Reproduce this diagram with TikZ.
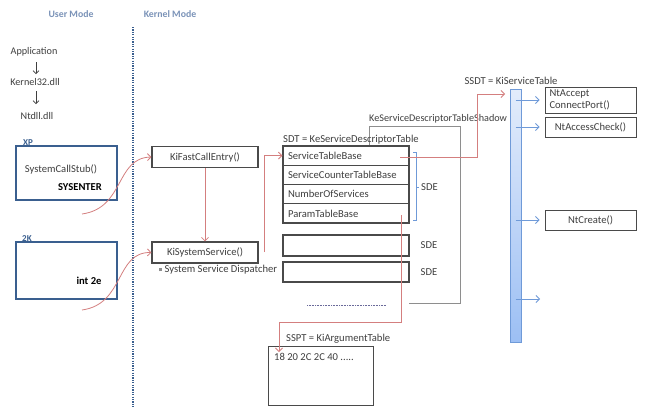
\documentclass[tikz,border=0pt]{standalone}
\usepackage{fontspec}
\setmainfont{Carlito}
\usetikzlibrary{arrows.meta,calc}
\definecolor{txt}{HTML}{3F3F3F}
\definecolor{boxc}{HTML}{4A4A4A}
\definecolor{xpblue}{HTML}{3A5F8F}
\definecolor{hdr}{HTML}{7B93B8}
\definecolor{redl}{HTML}{D47F7F}
\definecolor{bluel}{HTML}{6F9AD8}
\definecolor{grayl}{HTML}{8E8E8E}
\definecolor{bartop}{HTML}{E3ECFB}
\definecolor{barbot}{HTML}{9CBFF4}
\definecolor{dotc}{HTML}{6A6A9A}
\newcommand\myfs{\fontsize{10.6}{12}\selectfont}
\begin{document}
\begin{tikzpicture}[x=1pt,y=-1pt,
  every node/.style={font=\myfs, text=txt},
  lbl/.style={inner sep=0pt},
  box/.style={draw=boxc, line width=1.1pt, fill=white, inner sep=0pt, minimum width=106pt, minimum height=21pt},
  osbox/.style={draw=xpblue, line width=1.6pt, inner sep=0pt, minimum width=101pt},
  osl/.style={font={\fontsize{9}{10}\selectfont\bfseries}, text=xpblue, inner sep=0pt},
  hdrl/.style={font={\fontsize{9.8}{11}\selectfont\bfseries}, text=hdr, inner sep=0pt},
  bld/.style={font={\myfs\bfseries}, text=black, inner sep=0pt},
  row/.style={draw=boxc, line width=1.1pt, fill=white, minimum width=126pt, minimum height=19.25pt, text width=116pt, align=left, inner xsep=5pt, inner ysep=0pt},
  ntbox/.style={draw=boxc, line width=1pt, fill=white, minimum width=91pt, inner sep=0pt},
  redarr/.style={draw=redl, line width=0.8pt, -{Straight Barb[length=3.5pt,width=7pt]}},
  bluearr/.style={draw=bluel, line width=0.8pt, -{Straight Barb[length=3.5pt,width=7pt]}},
  grayarr/.style={draw=txt, line width=0.6pt, -{Straight Barb[length=3pt,width=6pt]}},
]
\useasboundingbox (0,0) rectangle (648,407);
\fill[white] (0,0) rectangle (648,407);
% headers
\node[hdrl] (um) at (71,14) {User Mode};
\node[hdrl] (km) at (170,14) {Kernel Mode};
\coordinate (dtop) at (133,27);
\coordinate (dbot) at (133,407);
\draw[xpblue, line width=1.6pt, dash pattern=on 1.2pt off 1.2pt] (dtop) -- (dbot);
% user chain
\node[lbl, font={\fontsize{10.2}{12}\selectfont}] (app) at (34,52) {Application};
\node[lbl, font={\fontsize{10.2}{12}\selectfont}] (k32) at (35,82) {Kernel32.dll};
\node[lbl, font={\fontsize{10.2}{12}\selectfont}] (ntd) at (37,116) {Ntdll.dll};
\coordinate (a1) at (36,62);
\coordinate (a2) at (36,74);
\coordinate (a3) at (36,91);
\coordinate (a4) at (36,104);
\draw[grayarr] (a1) -- (a2);
\draw[grayarr] (a3) -- (a4);
% XP
\node[osbox, minimum height=54pt] (xp) at (66.5,173) {};
\node[osl, anchor=south west] (xpl) at (23,146) {XP};
\node[lbl] (stub) at (61,169) {SystemCallStub()};
\node[bld] (sysenter) at (80,187) {SYSENTER};
% 2K
\node[osbox, minimum height=57pt] (tk) at (66.5,270.5) {};
\node[osl, anchor=south west] (tkl) at (22,242) {2K};
\node[bld] (int) at (89,281) {int 2e};
% kernel entries
\node[box] (fast) at (205,157) {KiFastCallEntry()};
\node[box] (sys) at (205,252.5) {KiSystemService()};
\node[lbl, anchor=west] (disp) at (159,270) {\textcolor{grayl}{\rule[1.5pt]{3pt}{3pt}} System Service Dispatcher};
\coordinate (c1) at (82,214);
\draw[redarr] (c1) .. controls (125,208) and (115,158) .. (fast.west);
\coordinate (c2) at (82,310);
\draw[redarr] (c2) .. controls (125,304) and (115,252) .. (sys.west);
\draw[redarr] (fast.south) -- (sys.north);
% shadow
\node[lbl, anchor=south west, font={\fontsize{10.2}{12}\selectfont}] (shl) at (369,123) {KeServiceDescriptorTableShadow};
\draw[grayl, line width=0.8pt] (369,146) -- (369,126) -- (460,126) -- (460,303) -- (409,303);
% SDT
\node[lbl, anchor=south west] (sdtl) at (283,144) {SDT = KeServiceDescriptorTable};
\node[row] (r1) at (346,155.6) {ServiceTableBase};
\node[row] (r2) at (346,174.9) {ServiceCounterTableBase};
\node[row] (r3) at (346,194.1) {NumberOfServices};
\node[row] (r4) at (346,213.4) {ParamTableBase};
\draw[bluel, line width=0.7pt] (413,152) -- (416,152) -- (416,220) -- (413,220);
\draw[bluel, line width=0.7pt] (416,187) -- (419,187);
\node[lbl, anchor=west] (sde1) at (421,187) {SDE};
\node[row, minimum height=21pt] (e1) at (346,245.5) {};
\node[row, minimum height=20pt] (e2) at (346,272) {};
\node[lbl] (sde2) at (429,245) {SDE};
\node[lbl] (sde3) at (429,272) {SDE};
\draw[dotc, line width=1pt, dash pattern=on 0.8pt off 0.8pt] (307,305) -- (386,305);
\coordinate (c3) at (264,252);
\draw[redarr] (c3) |- (r1.west);
% SSPT
\node[draw=boxc, line width=1pt, fill=white, minimum width=105pt, minimum height=59pt, inner sep=0pt] (sspt) at (320.5,375.5) {};
\node[lbl, anchor=south west] (ssptl) at (286,344) {SSPT = KiArgumentTable};
\node[lbl, anchor=west] (args) at (274,357) {18 20 2C 2C 40 .....};
\coordinate (c6) at (401,215);
\coordinate (c7) at (279,352);
\draw[redarr] (c6) -- (401,322) -- (279,322) -- (c7);
% SSDT
\node[lbl] (ssdtl) at (511,81) {SSDT = KiServiceTable};
\node[draw=bluel, line width=0.8pt, top color=bartop, bottom color=barbot, minimum width=11pt, minimum height=253pt, inner sep=0pt] (bar) at (515.5,215.5) {};
\coordinate (c4) at (400,157);
\coordinate (c5) at (505,94);
\draw[redarr] (c4) -- (477,157) -- (477,94) -- (c5);
\node[ntbox, minimum height=26pt, text width=82pt, align=left, inner xsep=4.5pt] (nt1) at (590.5,100) {NtAccept\\ConnectPort()};
\node[ntbox, minimum height=20pt] (nt2) at (590.5,127) {NtAccessCheck()};
\node[ntbox, minimum height=20pt] (nt3) at (590.5,220) {NtCreate()};
\coordinate (c8) at (540,299);
\draw[bluearr] (bar.center |- nt1) -- ([xshift=-5pt]nt1.west);
\draw[bluearr] (bar.center |- nt2) -- ([xshift=-5pt]nt2.west);
\draw[bluearr] (bar.center |- nt3) -- ([xshift=-5pt]nt3.west);
\draw[bluearr] (bar.center |- c8) -- (c8);
\end{tikzpicture}
\end{document}
